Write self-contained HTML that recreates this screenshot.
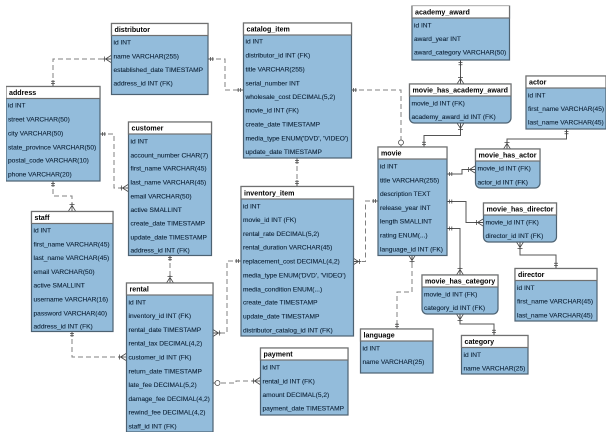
<!DOCTYPE html>
<html><head><meta charset="utf-8"><style>
html,body{margin:0;padding:0;background:#fff;width:613px;height:438px;overflow:hidden}
svg{display:block}
text{font-family:"Liberation Sans",sans-serif;font-size:6.6px;fill:#0f2439;stroke:#0f2439;stroke-width:.12;transform:translateY(-0.6px)}
.h{font-weight:bold;font-size:7.1px;fill:#000;stroke:none}
.b{fill:#93bcdb;stroke:#4d6272;stroke-width:1.2}
.w{fill:#fff;stroke:#6f6f6f;stroke-width:1.2}
.d{fill:none;stroke:#808080;stroke-width:1;stroke-dasharray:5 3}
.s{fill:none;stroke:#555;stroke-width:1}
.m{fill:none;stroke:#444;stroke-width:.75}
</style></head><body>
<svg width="613" height="438" viewBox="0 0 613 438" xmlns="http://www.w3.org/2000/svg">
<defs>
<filter id="f" x="0" y="0" width="100%" height="100%"><feGaussianBlur stdDeviation="0.25"/></filter>
<g id="one" class="m"><path d="M0 0H6M2.500 -2V2M4.800 -2V2"/></g>
<g id="crow" class="m"><path d="M0 -3.500L5.500 0L0 3.500M0 0H8M6.500 -2.500V2.500"/></g>
<g id="zero" class="m"><path d="M0 0H2"/><circle cx="4.500" cy="0" r="2.500" fill="#fff"/></g>
</defs>
<g filter="url(#f)">
<!-- connectors -->
<path class="d" d="M53 86V59H111"/>
<path class="d" d="M208 59H225V90H243"/>
<path class="d" d="M351 90H401V147"/>
<path class="d" d="M297 158V186"/>
<path class="d" d="M100 134H114V188H128"/>
<path class="d" d="M53 181V196H72V211"/>
<path class="d" d="M170 255V283"/>
<path class="d" d="M72 331V357H126"/>
<path class="d" d="M241 261H227V333H213"/>
<path class="d" d="M213 383H236V381H260"/>
<path class="d" d="M378 201H365.500V261.500H353"/>
<path class="d" d="M412 255V292H397V329"/>
<path class="s" d="M447 174H462V169.500H475"/>
<path class="s" d="M447 201.500H466V222.500H483"/>
<path class="s" d="M447 228.500H460V275"/>
<path class="s" d="M424 147V135.500H460.500V123"/>
<path class="s" d="M460.500 60V84"/>
<path class="s" d="M566.500 129V139H507V149"/>
<path class="s" d="M520 242V255H556V268"/>
<path class="s" d="M460 314V324H494V335"/>
<!-- marks -->
<use href="#one" transform="translate(53,86) rotate(-90)"/>
<use href="#crow" transform="translate(111,59) rotate(180)"/>
<use href="#one" transform="translate(208,59)"/>
<use href="#one" transform="translate(243,90) rotate(180)"/>
<use href="#one" transform="translate(351,90)"/>
<use href="#zero" transform="translate(401,147) rotate(-90)"/>
<use href="#one" transform="translate(297,158) rotate(90)"/>
<use href="#one" transform="translate(297,186) rotate(-90)"/>
<use href="#one" transform="translate(100,134)"/>
<use href="#crow" transform="translate(128,188) rotate(180)"/>
<use href="#one" transform="translate(53,181) rotate(90)"/>
<use href="#crow" transform="translate(72,211) rotate(-90)"/>
<use href="#one" transform="translate(170,255) rotate(90)"/>
<use href="#crow" transform="translate(170,283) rotate(-90)"/>
<use href="#one" transform="translate(72,331) rotate(90)"/>
<use href="#crow" transform="translate(126,357) rotate(180)"/>
<use href="#one" transform="translate(241,261) rotate(180)"/>
<use href="#crow" transform="translate(213,333)"/>
<use href="#zero" transform="translate(213,383)"/>
<use href="#crow" transform="translate(260,381) rotate(180)"/>
<use href="#one" transform="translate(378,201) rotate(180)"/>
<use href="#crow" transform="translate(353,261.500)"/>
<use href="#crow" transform="translate(412,255) rotate(90)"/>
<use href="#one" transform="translate(397,329) rotate(-90)"/>
<use href="#one" transform="translate(447,174)"/>
<use href="#crow" transform="translate(475,169.500) rotate(180)"/>
<use href="#one" transform="translate(447,201.500)"/>
<use href="#crow" transform="translate(483,222.500) rotate(180)"/>
<use href="#one" transform="translate(447,228.500)"/>
<use href="#crow" transform="translate(460,275) rotate(-90)"/>
<use href="#one" transform="translate(424,147) rotate(-90)"/>
<use href="#crow" transform="translate(460.500,123) rotate(90)"/>
<use href="#one" transform="translate(460.500,60) rotate(90)"/>
<use href="#crow" transform="translate(460.500,84) rotate(-90)"/>
<use href="#one" transform="translate(566.500,129) rotate(90)"/>
<use href="#crow" transform="translate(507,149) rotate(-90)"/>
<use href="#crow" transform="translate(520,242) rotate(90)"/>
<use href="#one" transform="translate(556,268) rotate(-90)"/>
<use href="#crow" transform="translate(460,314) rotate(90)"/>
<use href="#one" transform="translate(494,335) rotate(-90)"/>

<!-- distributor -->
<rect class="b" x="111.500" y="23.500" width="96.500" height="71"/><rect class="w" x="111.500" y="23.500" width="96.500" height="12"/>
<text class="h" x="114.500" y="32.500">distributor</text>
<text x="113.500" y="45">id INT</text><text x="113.500" y="59">name VARCHAR(255)</text><text x="113.500" y="72.500">established_date TIMESTAMP</text><text x="113.500" y="86">address_id INT (FK)</text>
<!-- address -->
<rect class="b" x="6" y="86.500" width="94" height="94.500"/><rect class="w" x="6" y="86.500" width="94" height="12"/>
<text class="h" x="9" y="95.500">address</text>
<text x="8" y="108">id INT</text><text x="8" y="122">street VARCHAR(50)</text><text x="8" y="136">city VARCHAR(50)</text><text x="8" y="150">state_province VARCHAR(50)</text><text x="8" y="163">postal_code VARCHAR(10)</text><text x="8" y="177">phone VARCHAR(20)</text>
<!-- customer -->
<rect class="b" x="128.500" y="122" width="83" height="133.500"/><rect class="w" x="128.500" y="122" width="83" height="12"/>
<text class="h" x="131.500" y="131">customer</text>
<text x="130.500" y="144">id INT</text><text x="130.500" y="158">account_number CHAR(7)</text><text x="130.500" y="171">first_name VARCHAR(45)</text><text x="130.500" y="185">last_name VARCHAR(45)</text><text x="130.500" y="199">email VARCHAR(50)</text><text x="130.500" y="212.500">active SMALLINT</text><text x="130.500" y="226">create_date TIMESTAMP</text><text x="130.500" y="240">update_date TIMESTAMP</text><text x="130.500" y="253">address_id INT (FK)</text>
<!-- staff -->
<rect class="b" x="31.500" y="211.500" width="81.500" height="120"/><rect class="w" x="31.500" y="211.500" width="81.500" height="12"/>
<text class="h" x="34.500" y="220.500">staff</text>
<text x="33.500" y="233">id INT</text><text x="33.500" y="247">first_name VARCHAR(45)</text><text x="33.500" y="260.500">last_name VARCHAR(45)</text><text x="33.500" y="274.500">email VARCHAR(50)</text><text x="33.500" y="288">active SMALLINT</text><text x="33.500" y="302">username VARCHAR(16)</text><text x="33.500" y="316">password VARCHAR(40)</text><text x="33.500" y="329">address_id INT (FK)</text>
<!-- rental -->
<rect class="b" x="126.500" y="283" width="86.500" height="149"/><rect class="w" x="126.500" y="283" width="86.500" height="12"/>
<text class="h" x="129.500" y="292">rental</text>
<text x="128.500" y="305">id INT</text><text x="128.500" y="318.500">inventory_id INT (FK)</text><text x="128.500" y="332.500">rental_date TIMESTAMP</text><text x="128.500" y="346">rental_tax DECIMAL(4,2)</text><text x="128.500" y="360">customer_id INT (FK)</text><text x="128.500" y="374">return_date TIMESTAMP</text><text x="128.500" y="387.500">late_fee DECIMAL(5,2)</text><text x="128.500" y="401.500">damage_fee DECIMAL(4,2)</text><text x="128.500" y="415">rewind_fee DECIMAL(4,2)</text><text x="128.500" y="429">staff_id INT (FK)</text>
<!-- catalog_item -->
<rect class="b" x="243.500" y="23" width="108" height="135"/><rect class="w" x="243.500" y="23" width="108" height="12"/>
<text class="h" x="246.500" y="32">catalog_item</text>
<text x="245.500" y="44">id INT</text><text x="245.500" y="58">distributor_id INT (FK)</text><text x="245.500" y="72">title VARCHAR(255)</text><text x="245.500" y="86">serial_number INT</text><text x="245.500" y="99.500">wholesale_cost DECIMAL(5,2)</text><text x="245.500" y="113">movie_id INT (FK)</text><text x="245.500" y="127">create_date TIMESTAMP</text><text x="245.500" y="141">media_type ENUM('DVD', 'VIDEO')</text><text x="245.500" y="154.500">update_date TIMESTAMP</text>
<!-- inventory_item -->
<rect class="b" x="241" y="186.500" width="112.500" height="149.500"/><rect class="w" x="241" y="186.500" width="112.500" height="12.500"/>
<text class="h" x="244" y="196">inventory_item</text>
<text x="243" y="209">id INT</text><text x="243" y="222.500">movie_id INT (FK)</text><text x="243" y="236.500">rental_rate DECIMAL(5,2)</text><text x="243" y="250">rental_duration VARCHAR(45)</text><text x="243" y="264">replacement_cost DECIMAL(4,2)</text><text x="243" y="278">media_type ENUM('DVD', 'VIDEO')</text><text x="243" y="292">media_condition ENUM(...)</text><text x="243" y="305">create_date TIMESTAMP</text><text x="243" y="319">update_date TIMESTAMP</text><text x="243" y="333">distributor_catalog_id INT (FK)</text>
<!-- payment -->
<rect class="b" x="260.500" y="348" width="87.500" height="67"/><rect class="w" x="260.500" y="348" width="87.500" height="12"/>
<text class="h" x="263.500" y="357">payment</text>
<text x="262.500" y="370">id INT</text><text x="262.500" y="384">rental_id INT (FK)</text><text x="262.500" y="397.500">amount DECIMAL(5,2)</text><text x="262.500" y="411">payment_date TIMESTAMP</text>
<!-- language -->
<rect class="b" x="360.500" y="329" width="72.500" height="44"/><rect class="w" x="360.500" y="329" width="72.500" height="12"/>
<text class="h" x="363.500" y="338">language</text>
<text x="362.500" y="351">id INT</text><text x="362.500" y="364.500">name VARCHAR(25)</text>
<!-- category -->
<rect class="b" x="461.500" y="335.500" width="66.500" height="38.500"/><rect class="w" x="461.500" y="335.500" width="66.500" height="12"/>
<text class="h" x="464.500" y="344.500">category</text>
<text x="463.500" y="357.500">id INT</text><text x="463.500" y="371">name VARCHAR(25)</text>
<!-- director -->
<rect class="b" x="515" y="268.500" width="82" height="52.500"/><rect class="w" x="515" y="268.500" width="82" height="12"/>
<text class="h" x="518" y="277.500">director</text>
<text x="517" y="290.500">id INT</text><text x="517" y="304">first_name VARCHAR(45)</text><text x="517" y="318">last_name VARCHAR(45)</text>
<!-- movie_has_category -->
<path class="b" d="M422 275H498V309a5 5 0 0 1 -5 5H427a5 5 0 0 1 -5 -5Z"/><rect class="w" x="422" y="275" width="76" height="12"/>
<text class="h" x="425" y="284">movie_has_category</text>
<text x="424" y="297">movie_id INT (FK)</text><text x="424" y="310.500">category_id INT (FK)</text>
<!-- movie_has_director -->
<path class="b" d="M483.500 203H556.500V237a5 5 0 0 1 -5 5H488.500a5 5 0 0 1 -5 -5Z"/><rect class="w" x="483.500" y="203" width="73" height="12"/>
<text class="h" x="486.500" y="212">movie_has_director</text>
<text x="485.500" y="225">movie_id INT (FK)</text><text x="485.500" y="238.500">director_id INT (FK)</text>
<!-- movie_has_actor -->
<path class="b" d="M475.500 149H540V183a5 5 0 0 1 -5 5H480.500a5 5 0 0 1 -5 -5Z"/><rect class="w" x="475.500" y="149" width="64.500" height="12"/>
<text class="h" x="478.500" y="158">movie_has_actor</text>
<text x="477.500" y="171">movie_id INT (FK)</text><text x="477.500" y="185">actor_id INT (FK)</text>
<!-- movie -->
<rect class="b" x="378" y="147" width="69" height="108.500"/><rect class="w" x="378" y="147" width="69" height="12"/>
<text class="h" x="381" y="156">movie</text>
<text x="380" y="169">id INT</text><text x="380" y="183">title VARCHAR(255)</text><text x="380" y="196.500">description TEXT</text><text x="380" y="210.500">release_year INT</text><text x="380" y="224">length SMALLINT</text><text x="380" y="238">rating ENUM(...)</text><text x="380" y="252">language_id INT (FK)</text>
<!-- movie_has_academy_award -->
<path class="b" d="M409.500 84H511V118a5 5 0 0 1 -5 5H414.500a5 5 0 0 1 -5 -5Z"/><rect class="w" x="409.500" y="84" width="101.500" height="12"/>
<text class="h" x="412.500" y="93">movie_has_academy_award</text>
<text x="411.500" y="106">movie_id INT (FK)</text><text x="411.500" y="119.500">academy_award_id INT (FK)</text>
<!-- academy_award -->
<rect class="b" x="412" y="5.500" width="97.500" height="54.500"/><rect class="w" x="412" y="5.500" width="97.500" height="12.500"/>
<text class="h" x="415" y="15">academy_award</text>
<text x="414" y="28">id INT</text><text x="414" y="41.500">award_year INT</text><text x="414" y="55">award_category VARCHAR(50)</text>
<!-- actor -->
<rect class="b" x="526" y="76" width="80" height="53"/><rect class="w" x="526" y="76" width="80" height="12"/>
<text class="h" x="529" y="85">actor</text>
<text x="528" y="98">id INT</text><text x="528" y="111.500">first_name VARCHAR(45)</text><text x="528" y="125">last_name VARCHAR(45)</text>
</g>
</svg>
</body></html>
